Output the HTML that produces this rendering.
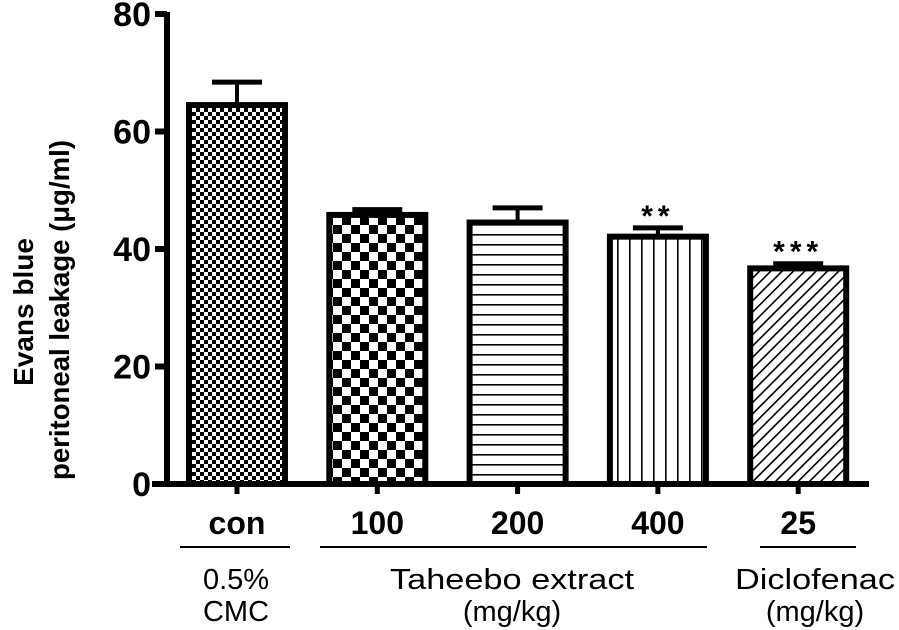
<!DOCTYPE html>
<html><head><meta charset="utf-8"><style>
html,body{margin:0;padding:0;background:#fff;}
svg{display:block;font-family:"Liberation Sans",Arial,sans-serif;}
</style></head><body>
<svg id="chart" width="899" height="630" viewBox="0 0 899 630" xmlns="http://www.w3.org/2000/svg">
<defs>
<pattern id="p0" width="8" height="8" patternUnits="userSpaceOnUse"><rect width="8" height="8" fill="#fff"/><rect width="4" height="4" fill="#000"/><rect x="4" y="4" width="4" height="4" fill="#000"/></pattern>
<pattern id="p1" width="18" height="18" patternUnits="userSpaceOnUse"><rect width="18" height="18" fill="#fff"/><rect width="9" height="9" fill="#000"/><rect x="9" y="9" width="9" height="9" fill="#000"/></pattern>
<pattern id="p2" width="10" height="10" patternUnits="userSpaceOnUse"><rect width="10" height="10" fill="#fff"/><rect y="4" width="10" height="1.6" fill="#000"/></pattern>
<pattern id="p3" width="12" height="10" patternUnits="userSpaceOnUse"><rect width="12" height="10" fill="#fff"/><rect x="5" width="1.6" height="10" fill="#000"/></pattern>
<pattern id="p4" width="8" height="8" patternUnits="userSpaceOnUse" patternTransform="rotate(45)"><rect width="8" height="8" fill="#fff"/><rect width="1.6" height="8" fill="#000"/></pattern>
</defs>
<g id="plot"></g>
<text transform="translate(33,312) rotate(-90)" text-anchor="middle" font-weight="bold" font-size="28">Evans blue</text>
<text transform="translate(69,310) rotate(-90)" text-anchor="middle" font-weight="bold" font-size="28" textLength="340" lengthAdjust="spacingAndGlyphs">peritoneal leakage (μg/ml)</text>
<line x1="180" y1="547" x2="290" y2="547" stroke="#000" stroke-width="2"/>
<line x1="320" y1="547" x2="707" y2="547" stroke="#000" stroke-width="2"/>
<line x1="760" y1="547" x2="856" y2="547" stroke="#000" stroke-width="2"/>
<g font-size="29" text-anchor="middle">
<text x="236" y="589">0.5%</text>
<text x="236" y="621">CMC</text>
<text x="512" y="589" textLength="244" lengthAdjust="spacingAndGlyphs">Taheebo extract</text>
<text x="512" y="621">(mg/kg)</text>
<text x="815" y="589" textLength="160" lengthAdjust="spacingAndGlyphs">Diclofenac</text>
<text x="815" y="621">(mg/kg)</text>
</g>
</svg>
<script>
const categories = ["con","100","200","400","25"];
const values = [64.5, 45.8, 44.5, 42.1, 36.7];
const errors = [3.9, 0.9, 2.5, 1.5, 0.8];
const stars = ["", "", "", "**", "***"];
const yTicks = [0, 20, 40, 60, 80];
const patterns = ["p0","p1","p2","p3","p4"];

const NS = "http://www.w3.org/2000/svg";
const g = document.getElementById("plot");
const y0 = 484, yTop = 14, yMax = 80;
const yScale = v => y0 - (v / yMax) * (y0 - yTop);
const xCenter = i => 237 + i * 140.3;
const barW = 96;
function mk(tag, attrs) { const e = document.createElementNS(NS, tag); for (const k in attrs) e.setAttribute(k, attrs[k]); g.appendChild(e); return e; }

values.forEach((v, i) => {
  const cx = xCenter(i), top = yScale(v), eTop = yScale(v + errors[i]);
  const el = mk("line", {x1: cx, y1: top, x2: cx, y2: eTop, stroke: "#000", "stroke-width": 4});
  
  
  const cap = mk("line", {x1: cx - 25, y1: eTop, x2: cx + 25, y2: eTop, stroke: "#000", "stroke-width": 5});
  
  
  const r = mk("rect", {x: cx - barW / 2, y: top, width: barW, height: y0 - top, fill: "url(#" + patterns[i] + ")", stroke: "#000", "stroke-width": 6});
  
  
  const tk = mk("line", {x1: cx, y1: y0, x2: cx, y2: y0 + 10, stroke: "#000", "stroke-width": 5});
  
  
  const t = mk("text", {x: cx, y: 534, "text-anchor": "middle", "font-weight": "bold", "font-size": 32});
  t.textContent = categories[i];
  
  
  if (stars[i]) {
    const s = mk("text", {x: cx, y: eTop - 2, "text-anchor": "middle", "font-weight": "bold", "font-size": 30, "letter-spacing": 5});
    s.textContent = stars[i];
    
    
  }
});
const ya = mk("line", {x1: 167, y1: yTop - 2, x2: 167, y2: y0 + 3, stroke: "#000", "stroke-width": 6});


const xa = mk("line", {x1: 152, y1: y0, x2: 869, y2: y0, stroke: "#000", "stroke-width": 6});


yTicks.forEach(v => {
  const y = yScale(v);
  const tk = mk("line", {x1: 155, y1: y, x2: 167, y2: y, stroke: "#000", "stroke-width": 6});
  
  
  const t = mk("text", {x: 151, y: y + 12, "text-anchor": "end", "font-weight": "bold", "font-size": 34});
  t.textContent = v;
  
  
});
</script>
</body></html>
